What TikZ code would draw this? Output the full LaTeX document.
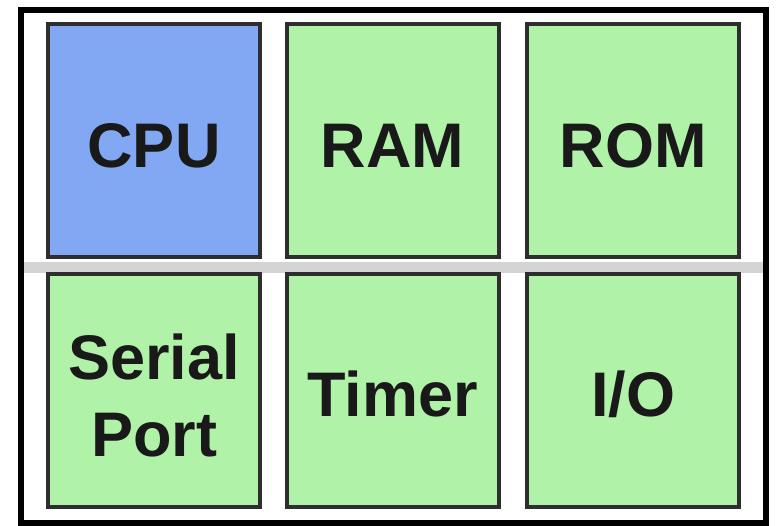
\documentclass[tikz,border=0pt]{standalone}
\usepackage{fontspec}
\setmainfont{Liberation Sans}
\definecolor{cpublue}{HTML}{83A8F3}
\definecolor{blkgreen}{HTML}{B0F2A8}
\definecolor{edgegray}{HTML}{2E2E2E}
\definecolor{gapgray}{HTML}{D4D4D4}
\newcommand{\lowerby}[2]{\raisebox{-#1}[\height][\depth]{#2}}
\begin{document}
\begin{tikzpicture}[x=1pt,y=-1pt,
  blk/.style={draw=edgegray, line width=4pt, minimum width=212pt, minimum height=233pt,
    inner sep=0pt, outer sep=0pt, align=center,
    font=\bfseries\fontsize{63}{77}\selectfont, text=black!90},
  greenblk/.style={blk, fill=blkgreen},
  blueblk/.style={blk, fill=cpublue}]
\useasboundingbox (0,0) rectangle (776,526);
\fill[white] (0,0) rectangle (776,526);
\fill[gapgray] (24,262) rectangle (763,273);
\node[blueblk]  (cpu)    at (154,141) {\lowerby{5pt}{CPU}};
\node[greenblk] (ram)    at (392.5,141) {\lowerby{5pt}{RAM}};
\node[greenblk] (rom)    at (633,141) {\lowerby{5pt}{ROM}};
\node[greenblk] (serial) at (154,390.5) {\lowerby{12pt}{\begin{tabular}{@{}c@{}}Serial\\Port\end{tabular}}};
\node[greenblk] (timer)  at (392.5,390.5) {\lowerby{3pt}{Timer}};
\node[greenblk] (io)     at (633,390.5) {\lowerby{4pt}{I/O}};
\draw[black, line width=6pt] (21,10) rectangle (766,523);
\end{tikzpicture}
\end{document}
